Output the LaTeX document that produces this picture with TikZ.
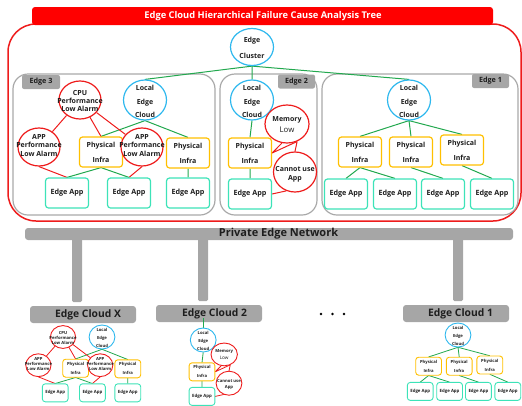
\documentclass[tikz,border=0pt]{standalone}
\usepackage{fontspec}
\setmainfont{Open Sans}
\usetikzlibrary{shapes.geometric}

\definecolor{alarmred}{HTML}{EE1C1C}
\definecolor{titlered}{HTML}{FF0000}
\definecolor{cloudblue}{HTML}{2EB8EE}
\definecolor{infragold}{HTML}{FFC000}
\definecolor{appteal}{HTML}{3DE3B8}
\definecolor{linkgreen}{HTML}{22A84E}
\definecolor{panelgray}{HTML}{A6A6A6}
\definecolor{framegray}{HTML}{A9A9A9}
\definecolor{inktext}{HTML}{1E1E1E}

\pgfdeclarelayer{frames}
\pgfdeclarelayer{wires}
\pgfsetlayers{frames,wires,main}

\newcommand\fs[2]{\fontsize{#1}{#2}\selectfont}

% Edge 3: alarms on top of a local edge cloud with two physical infras
\newcommand\treethree[1]{%
  \node[alarm] (#1cpu) at (80,100) {};
  \node[ctext=8.2] (#1cpu-t) at (80,101) {CPU\\Performance\\Low Alarm};
  \node[cloud] (#1lec) at (145,100) {};
  \node[ctext=13.3] (#1lec-t) at (145,101.5) {Local\\Edge\\Cloud};
  \node[alarm] (#1apl) at (39,147) {};
  \node[ctext=8.5] (#1apl-t) at (39,145.5) {APP\\Performance\\Low Alarm};
  \node[infra] (#1pil) at (101,152) {Physical\\Infra};
  \node[alarm] (#1apr) at (142,147) {};
  \node[ctext=8.5] (#1apr-t) at (142,145.5) {APP\\Performance\\Low Alarm};
  \node[infra] (#1pir) at (188,153) {Physical\\Infra};
  \node[app] (#1ea1) at (67,193) {Edge App};
  \node[app] (#1ea2) at (129,193) {Edge App};
  \node[app] (#1ea3) at (188,193) {Edge App};
  \begin{pgfonlayer}{wires}
    \draw[link] (#1lec.south) -- (#1pil.north)
                (#1lec.south) -- (#1pir.north)
                (#1pil.south) -- (#1ea1.north)
                (#1pil.south) -- (#1ea2.north)
                (#1pir.south) -- (#1ea3.north);
    \draw[fault] (#1cpu) -- (#1apl)
                 (#1cpu) -- (#1pil.north)
                 (#1cpu) -- (#1apr)
                 (#1apl.south) -- (#1ea1.north)
                 (#1apr.south) -- (#1ea2.north);
  \end{pgfonlayer}
}

% Edge 2: a single infra with memory and application faults
\newcommand\treetwo[1]{%
  \node[cloud] (#1lec) at (252,100) {};
  \node[ctext=13.3] (#1lec-t) at (252,101.5) {Local\\Edge\\Cloud};
  \node[alarm, minimum width=44pt] (#1mem) at (287,124) {};
  \node[ctext=11] (#1mem-t) at (287,124.5) {Memory\\\mdseries\fs{7.8}{11}Low};
  \node[infra] (#1pi) at (250,153) {Physical\\Infra};
  \node[alarm, minimum width=43pt, minimum height=40pt] (#1can) at (295,172) {};
  \node[ctext=9] (#1can-t) at (295,174) {Cannot use\\App};
  \node[app] (#1ea) at (250,194) {Edge App};
  \begin{pgfonlayer}{wires}
    \draw[link] (#1lec.south) -- (#1pi.north)
                (#1pi.south) -- (#1ea.north);
    \draw[fault] (#1pi.east) -- (#1mem.255)
                 (#1pi.east) -- (#1mem.300)
                 (#1mem.300) -- (#1can.north)
                 (#1ea.east) -- (#1can.245);
  \end{pgfonlayer}
}

% Edge 1: three physical infras serving four applications
\newcommand\treeone[1]{%
  \node[cloud] (#1lec) at (409,100) {};
  \node[ctext=13.3] (#1lec-t) at (409,101.5) {Local\\Edge\\Cloud};
  \node[infra] (#1pi1) at (360,152) {Physical\\Infra};
  \node[infra] (#1pi2) at (411,152) {Physical\\Infra};
  \node[infra] (#1pi3) at (462,150) {Physical\\Infra};
  \node[app] (#1ea1) at (346,194) {Edge App};
  \node[app] (#1ea2) at (395,194) {Edge App};
  \node[app] (#1ea3) at (443,194) {Edge App};
  \node[app] (#1ea4) at (492,194) {Edge App};
  \begin{pgfonlayer}{wires}
    \draw[link] (#1lec.south) -- (#1pi1.north)
                (#1lec.south) -- (#1pi2.north)
                (#1lec.south) -- (#1pi3.north)
                (#1pi1.south) -- (#1ea1.north)
                (#1pi1.south) -- (#1ea2.north)
                (#1pi2.south) -- (#1ea3.north)
                (#1pi3.south) -- (#1ea4.north);
  \end{pgfonlayer}
}

\begin{document}
\begin{tikzpicture}[x=1pt, y=-1pt,
  oval/.style={ellipse, draw, fill=white, line width=\shapew, inner sep=0pt},
  cloud/.style={oval, draw=cloudblue, minimum width=43pt, minimum height=40pt},
  alarm/.style={oval, draw=alarmred, minimum width=42pt, minimum height=38pt},
  box/.style={rectangle, rounded corners=3pt, draw, fill=white, line width=\shapew,
    minimum width=43pt, minimum height=30pt, inner sep=0pt, text=inktext},
  infra/.style={box, draw=infragold, font=\bfseries\fs{7}{15}, align=center},
  app/.style={box, draw=appteal, font=\bfseries\fs{7.2}{8}},
  ctext/.style={font=\bfseries\fs{7}{#1}, align=center, inner sep=0pt, text=inktext},
  link/.style={draw=linkgreen, line width=\linkw},
  fault/.style={draw=alarmred, line width=\linkw},
  tab/.style={rectangle, fill=panelgray, rounded corners=2pt, inner sep=0pt,
    minimum height=14pt, font=\bfseries\fs{7.2}{8}, text=inktext},
  slab/.style={rectangle, fill=panelgray, rounded corners=3pt, inner sep=0pt},
  slabtext/.style={font=\bfseries\fs{10.3}{12}, text=inktext, inner sep=0pt},
  dotmark/.style={circle, fill=black, inner sep=0pt, minimum size=2.6pt}]
\def\shapew{1.2pt}\def\linkw{1pt}
\useasboundingbox (0,0) rectangle (522,405);

% ---------- analysis tree frame ----------
\begin{pgfonlayer}{frames}
  \draw[alarmred, line width=1.5pt, rounded corners=28pt] (8,24) rectangle (521,221);
  \fill[titlered, rounded corners=3pt] (32,7) rectangle (493,25);
  \draw[framegray, line width=1.2pt, rounded corners=15pt] (13,74) rectangle (215,215);
  \draw[framegray, line width=1.2pt, rounded corners=15pt] (220,74) rectangle (317,215);
  \draw[framegray, line width=1.2pt, rounded corners=15pt] (322,74) rectangle (518,215);
\end{pgfonlayer}
\node[font=\bfseries\fs{9.3}{10}, text=white, inner sep=0pt] (title) at (263,16)
  {Edge Cloud Hierarchical Failure Cause Analysis Tree};

\node[tab, minimum width=38pt] (tab3) at (41,82) {Edge 3};
\node[tab, minimum width=37pt] (tab2) at (296.5,81.5) {Edge 2};
\node[tab, minimum width=37pt] (tab1) at (490.5,81) {Edge 1};

\node[cloud, minimum height=37pt] (cluster) at (252,47) {};
\node[ctext=15.7] (cluster-t) at (252,47.8) {Edge\\Cluster};

\treethree{e3}
\treetwo{e2}
\treeone{e1}

\begin{pgfonlayer}{wires}
  \draw[link] (cluster.south) -- (e3lec.north)
              (cluster.south) -- (e2lec.north)
              (cluster.south) -- (e1lec.north);
\end{pgfonlayer}

% ---------- private edge network ----------
\begin{pgfonlayer}{frames}
  \node[slab, minimum width=488pt, minimum height=12pt] (net) at (269,234) {};
  \fill[panelgray, rounded corners=1.5pt] (72,238) rectangle (82,302);
  \fill[panelgray, rounded corners=1.5pt] (198,238) rectangle (208,301);
  \fill[panelgray, rounded corners=1.5pt] (453,238) rectangle (463,301);
  \node[slab, minimum width=106pt, minimum height=17pt] (cloudx) at (83,314.5) {};
  \node[slab, minimum width=106pt, minimum height=17pt] (cloud2) at (209,313.5) {};
  \node[slab, minimum width=106pt, minimum height=17pt] (cloud1) at (456,313.5) {};
\end{pgfonlayer}
\node[slabtext, font=\bfseries\fs{11}{12}] (net-t) at (278.5,234) {Private Edge Network};
\node[slabtext] (cloudx-t) at (88,315) {Edge Cloud X};
\node[slabtext] (cloud2-t) at (214.5,314) {Edge Cloud 2};
\node[slabtext] (cloud1-t) at (460.5,314) {Edge Cloud 1};

\node[dotmark] (dot1) at (321,314) {};
\node[dotmark] (dot2) at (332.5,314) {};
\node[dotmark] (dot3) at (344,314) {};

% ---------- reduced copies under each edge cloud ----------
\begin{scope}[shift={(15,277)}, scale=0.6, transform shape]
  \def\shapew{0.9pt}\def\linkw{0.8pt}
  \treethree{mx}
\end{scope}

\begin{scope}[shift={(52,280)}, scale=0.6, transform shape]
  \def\shapew{0.9pt}\def\linkw{0.8pt}
  \treetwo{m2}
  \coordinate (m2top) at (252,63);
  \begin{pgfonlayer}{wires}
    \draw[link] (m2top) -- (m2lec.north);
  \end{pgfonlayer}
\end{scope}

\begin{scope}[shift={(212.6,275)}, scale=0.6, transform shape]
  \def\shapew{0.9pt}\def\linkw{0.8pt}
  \treeone{m1}
\end{scope}
\end{tikzpicture}
\end{document}
